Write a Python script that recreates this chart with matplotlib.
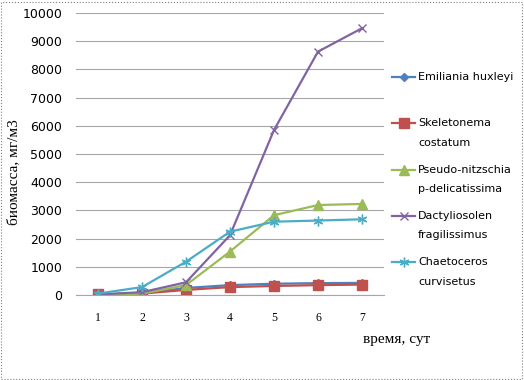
import matplotlib
matplotlib.use("Agg")
import matplotlib.pyplot as plt
from matplotlib.lines import Line2D
from matplotlib.patches import Rectangle

# ── Data ──────────────────────────────────────────────────────────────────────
days = [1, 2, 3, 4, 5, 6, 7]
emiliania = [20, 60, 250, 350, 400, 420, 430]
skeletonema = [20, 50, 180, 280, 320, 350, 370]
pseudo = [0, 50, 350, 1540, 2830, 3190, 3230]
dactylio = [20, 100, 450, 2120, 5850, 8630, 9460]
chaeto = [50, 280, 1180, 2245, 2600, 2640, 2685]

series = [
    ("Emiliania huxleyi", emiliania, "#4F81BD", "D", 4),
    ("Skeletonema\ncostatum", skeletonema, "#C0504D", "s", 7),
    ("Pseudo-nitzschia\np-delicatissima", pseudo, "#9BBB59", "^", 7),
    ("Dactyliosolen\nfragilissimus", dactylio, "#8064A2", "x", 6),
    ("Chaetoceros\ncurvisetus", chaeto, "#4BACC6", (6, 2, 0), 7),
]

SANS = ["Liberation Sans Narrow", "DejaVu Sans"]
SERIF = ["Liberation Serif", "DejaVu Serif"]
W, H = 524, 380

fig = plt.figure(figsize=(5.24, 3.8), dpi=100)
ax = fig.add_axes([76 / W, 1 - 295 / H, 308 / W, 282 / H])

for label, vals, color, marker, ms in series:
    ax.plot(days, vals, color=color, lw=1.6, marker=marker,
            markersize=ms, markeredgewidth=1.0)

ax.set_xlim(0.5, 7.5)
ax.set_ylim(0, 10000)
ax.set_yticks(range(0, 10001, 1000))
ax.set_xticks(days)
ax.grid(axis="y", color="#A6A6A6", lw=0.8)
ax.set_axisbelow(True)
for s in ["top", "right", "left"]:
    ax.spines[s].set_visible(False)
ax.spines["bottom"].set_color("#A6A6A6")
ax.tick_params(axis="y", length=0, pad=10)
ax.tick_params(axis="x", length=0, pad=12)
for t in ax.get_yticklabels():
    t.set_family(SANS)
    t.set_fontsize(9)
for t in ax.get_xticklabels():
    t.set_family(SERIF)
    t.set_fontsize(8.5)

fig.text(14 / W, 1 - 172 / H, "биомасса, мг/м3", rotation=90,
         ha="center", va="center", family=SERIF, fontsize=11)
fig.text(397 / W, 1 - 339 / H, "время, сут", ha="center", va="center",
         family=SERIF, fontsize=11)

# ── Legend: key on the first text line, as in the original ────────────────
for i, (label, vals, color, marker, ms) in enumerate(series):
    y = 1 - (77 + i * 46.3) / H
    fig.add_artist(Line2D([392 / W, 403.5 / W, 415 / W], [y, y, y],
                          transform=fig.transFigure, color=color, lw=1.6,
                          marker=marker, markersize=ms, markevery=[1],
                          markeredgewidth=1.0))
    for j, part in enumerate(label.split("\n")):
        fig.text(418 / W, y - j * 19.5 / H, part, ha="left", va="center",
                 family=SANS, fontsize=8)

fig.patches.append(Rectangle((0.002, 0.003), 0.995, 0.993,
                             transform=fig.transFigure, fill=False,
                             edgecolor="#808080", lw=0.8, ls=":"))

fig.savefig("out.png", dpi=100, facecolor="white")
